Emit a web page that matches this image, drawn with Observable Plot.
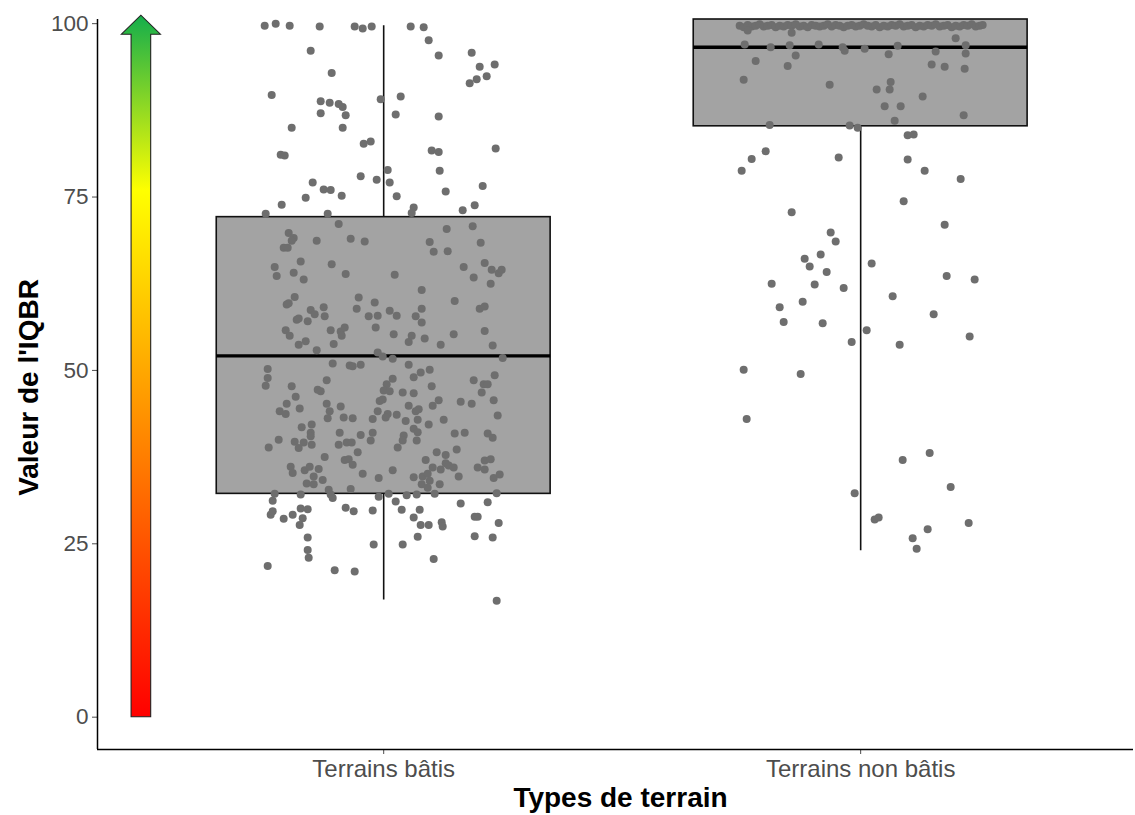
<!DOCTYPE html>
<html>
<head>
<meta charset="utf-8">
<script src="https://cdn.jsdelivr.net/npm/d3@7"></script>
<script src="https://cdn.jsdelivr.net/npm/@observablehq/plot@0.6"></script>
<style>
  html, body { margin: 0; padding: 0; background: #fff; }
</style>
</head>
<body>
<div id="chart"></div>
<script>
// ---------------- data ----------------
const categories = ["Terrains bâtis", "Terrains non bâtis"];
const categoryPositions = [1, 2];
const yTicks = [0, 25, 50, 75, 100];
const xTitle = "Types de terrain";
const yTitle = "Valeur de l'IQBR";

// box summaries (min-max whiskers)
const boxQ1 = [32.2, 85.2];
const boxMedian = [52.1, 96.6];
const boxQ3 = [72.1, 100.6];
const boxLow = [16.9, 24.0];
const boxHigh = [99.7, 100.6];

// IQBR colour arrow (value range)
const arrowRange = [0, 101.15];
const arrowPosition = 0.492;

// jittered points: [horizontal jitter (1/477 of category spacing), IQBR value]
const batisPoints = [
[-119,99.7],[-108,100],[-94,99.7],[-64,99.6],[-29,99.6],[-21,99.3],[-12,99.6],[27,99.6],[40,99.5],[45,97.6],
[-73,96.1],[55,95.4],[88,95.8],[96,93.8],[111,94.1],[-52,92.9],[86,91.4],[93,92.0],[103,92.4],[-112,89.7],
[-63,88.8],[-54,88.6],[-45,88.4],[-41,88.0],[-3,89.1],[17,89.5],[-63,87.1],[-38,86.8],[12,86.9],[55,86.6],
[-92,85.0],[-41,85.0],[-20,82.7],[-13,83.0],[48,81.7],[55,81.5],[112,82.0],[-103,81.1],[-99,81.0],[4,78.9],
[56,78.8],[-23,78.0],[-7,77.5],[6,77.1],[-71,77.1],[-60,76.1],[-53,76.0],[99,76.6],[62,75.8],[-78,74.9],
[-42,75.2],[13,75.1],[-102,73.9],[30,73.5],[91,73.8],[79,73.1],
[28,72.7],[-118,72.6],[-56,72.6],[-45,71.1],[-95,69.8],[-90,69.1],[-92,68.7],[-100,67.7],[-96,67.7],[-67,68.7],
[-33,69.0],[-19,68.6],[63,70.4],[89,70.8],[46,68.5],[50,67.1],[64,67.2],[97,68.4],[-109,64.9],[-107,63.6],
[-90,64.1],[-83,65.7],[-80,63.1],[-52,65.3],[-38,63.9],[11,63.8],[80,64.9],[90,63.4],[101,65.5],[108,64.5],
[115,64.0],[118,64.5],[107,62.5],[38,61.6],[-89,60.6],[-97,59.5],[-95,59.7],[-25,60.5],[-9,59.8],[71,60.0],
[-73,58.7],[-69,58.1],[-60,59.1],[-59,57.8],[-87,57.3],[-85,57.5],[-76,57.1],[-27,58.9],[-15,57.8],[-6,57.9],
[6,58.6],[13,57.9],[32,57.8],[38,58.9],[38,56.9],[96,58.9],[101,59.2],[-98,55.8],[-94,55.0],[-53,55.8],
[-43,55.6],[-39,56.2],[-42,55.0],[-85,53.7],[-78,54.2],[-67,52.9],[-50,53.8],[-8,56.2],[10,55.2],[25,54.1],
[28,55.0],[41,54.6],[57,53.7],[70,55.2],[101,55.7],[109,53.6],[-6,52.6],[-1,52.0],[9,51.7],[119,51.8],
[-51,51.0],[-34,50.7],[-31,50.6],[-23,50.8],[-116,50.2],[-116,48.9],[-118,47.8],[-92,47.7],[-57,48.6],[-66,47.2],
[-63,47.0],[-88,46.2],[25,50.8],[30,49.0],[37,49.7],[46,50.1],[9,48.8],[3,48.0],[0,47.1],[6,47.0],
[19,46.8],[30,46.7],[48,47.7],[90,48.6],[100,48.0],[104,48.0],[111,49.3],[98,46.8],
[110,45.7],[77,45.5],[88,45.2],[55,45.7],[49,44.9],[-4,45.6],[-1,45.8],[-97,45.2],[-104,44.1],[-98,43.7],
[-84,44.5],[-57,45.2],[-43,44.8],[-54,44.1],[-56,43.1],[-40,43.2],[-31,43.1],[-6,44.1],[-11,43.0],[4,43.7],
[2,43.2],[13,43.6],[25,44.9],[32,44.1],[35,44.4],[22,42.7],[34,42.9],[60,42.9],[45,42.2],[114,43.5],
[-82,41.8],[-72,42.2],[-73,41.0],[-73,40.5],[-105,40.0],[-115,38.9],[-89,39.7],[-85,38.8],[-80,39.6],[-72,39.3],
[-44,41.0],[-45,39.3],[-37,39.6],[-32,39.6],[-23,40.7],[-11,41.0],[-13,39.9],[20,40.6],[19,39.9],[14,38.9],
[30,41.6],[34,41.1],[33,39.9],[71,40.9],[81,41.0],[104,40.9],[109,40.3],[-26,38.2],[-59,37.5],[-39,37.1],
[-35,37.2],[-31,36.4],[53,38.2],[62,37.8],[73,38.6],[42,37.1],[-93,36.1],[-91,35.2],[-79,35.6],[-74,36.1],
[-65,35.8],[-70,34.7],[-77,33.7],[-70,33.6],[-61,34.2],[-21,35.1],[-5,34.5],[9,35.6],[30,34.6],[49,36.0],
[57,35.7],[62,36.6],[65,36.3],[70,36.0],[75,34.7],[94,36.0],[101,35.7],[101,37.0],[107,37.2],[110,34.5],
[116,35.0],[39,34.7],[44,35.1],[46,34.1],[38,33.6],[44,33.1],[56,33.6],[-33,32.9],[-55,32.8],[-53,32.1],
[-51,31.6],[-83,32.1],[-109,32.2],[-111,31.2],[-5,31.8],[5,32.2],[23,32.0],[33,32.1],[51,32.2],[113,32.3],
[12,31.1],[18,29.9],[36,29.9],[30,28.8],[77,30.8],[104,31.0],[115,28.0],[91,28.9],[94,28.9],[37,27.7],
[45,27.7],[58,28.1],[59,27.5],[-83,30.1],[-76,30.0],[-81,28.7],[-91,29.2],[-100,28.6],[-113,29.2],[-111,29.7],
[-84,27.7],[-38,30.2],[-30,29.7],[-11,29.8],[-76,25.9],[-76,24.1],[-75,23.0],[34,26.0],[19,24.9],[-10,24.9],
[91,26.1],[109,25.9],[50,22.8],[-116,21.8],[-49,21.2],[-29,21.0],[113,16.8]
];

const nonBatisPoints = [
[95,97.9],[-116,97.0],[-90,96.6],[-71,96.9],[-42,97.0],[-18,96.6],[-16,96.1],[4,96.4],[37,96.8],[105,96.9],
[105,95.7],[-69,98.7],[75,96.0],[-105,94.6],[-65,95.4],[-73,93.9],[28,95.6],[71,94.1],[84,93.8],[104,93.5],
[-117,91.9],[-31,91.2],[30,91.6],[16,90.5],[29,90.5],[62,89.5],[24,88.1],[40,88.1],[34,86.0],[103,86.8],
[-91,85.4],[-11,85.3],[-3,85.0],[47,83.9],[53,84.0],[-95,81.6],[-109,80.5],[-119,78.8],[-22,80.7],[47,80.4],
[64,78.8],[100,77.6],[43,74.4],[-69,72.8],[84,71.0],[-30,69.9],[-25,68.6],[-40,66.7],[-56,66.1],[-51,65.0],
[-34,64.2],[11,65.4],[-89,62.5],[-46,62.4],[-17,61.9],[86,63.6],[114,63.1],[32,60.7],[-81,59.1],[-58,59.9],
[-77,57.0],[-38,56.8],[73,58.1],[6,55.8],[-9,54.1],[39,53.7],[109,54.9],[-117,50.1],[-60,49.5],[-114,43.0],
[42,37.1],[69,38.1],[-6,32.3],[90,33.2],[14,28.5],[18,28.8],[108,28.0],[67,27.1],[52,25.8],[56,24.3],
[-113,99.0]
];

// dense band of "Terrains non bâtis" values near 100
const nonBatisTopJitter = [-121,-117,-113,-109,-105,-101,-97,-93,-89,-85,-81,-77,-73,-69,-65,-61,-57,-53,-49,-45,
  -41,-37,-33,-29,-25,-21,-17,-13,-9,-5,-1,3,7,11,15,19,23,27,31,35,39,43,47,51,55,59,63,67,71,75,79,83,87,91,95,
  99,103,107,111,115,119,122];
const nonBatisTopValues = [99.7,99.5,99.8,99.6,99.7,99.9,99.6,99.7,99.8,99.5,
  99.7,99.6,99.8,99.7,99.9,99.6,99.7,99.5,99.8,99.7,
  99.6,99.7,99.9,99.6,99.8,99.7,99.5,99.7,99.8,99.6,
  99.7,99.9,99.7,99.6,99.8,99.5,99.7,99.6,99.8,99.7,
  99.9,99.6,99.7,99.8,99.5,99.7,99.6,99.8,99.7,99.9,
  99.6,99.7,99.8,99.5,99.7,99.6,99.8,99.7,99.9,99.6,
  99.7,99.8];

// ---------------- build tables ----------------
const JITTER_UNITS = 477;
const boxes = categories.map((c, i) => ({
  pos: categoryPositions[i], q1: boxQ1[i], median: boxMedian[i], q3: boxQ3[i], lo: boxLow[i], hi: boxHigh[i]
}));
const points = [
  ...batisPoints.map(([j, v]) => ({x: categoryPositions[0] + j / JITTER_UNITS, y: v})),
  ...nonBatisTopJitter.map((j, i) => ({x: categoryPositions[1] + j / JITTER_UNITS, y: nonBatisTopValues[i]})),
  ...nonBatisPoints.map(([j, v]) => ({x: categoryPositions[1] + j / JITTER_UNITS, y: v}))
];

const xDomain = [0.4, 2.572];
const yDomain = [-4.66, 100.6];
const halfBox = 0.35;

// gradient arrow drawn through the scales
function arrowMark(index, scales) {
  const x = scales.x, y = scales.y;
  const cx = x(arrowPosition);
  const yb = y(arrowRange[0]);
  const yt = y(arrowRange[1]);
  const head = 19, headHalf = 19.5, shaftHalf = 9.8;
  const g = d3.create("svg:g");
  const grad = g.append("defs").append("linearGradient")
    .attr("id", "iqbr-grad").attr("gradientUnits", "userSpaceOnUse")
    .attr("x1", 0).attr("x2", 0).attr("y1", yb).attr("y2", yt);
  grad.append("stop").attr("offset", 0).attr("stop-color", "#FF0000");
  grad.append("stop").attr("offset", 0.75).attr("stop-color", "#FFFF00");
  grad.append("stop").attr("offset", 1).attr("stop-color", "#14AE4B");
  const yh = yt + head;
  g.append("path")
    .attr("d", `M${cx - shaftHalf},${yb}L${cx - shaftHalf},${yh}L${cx - headHalf},${yh}L${cx},${yt}L${cx + headHalf},${yh}L${cx + shaftHalf},${yh}L${cx + shaftHalf},${yb}Z`)
    .attr("fill", "url(#iqbr-grad)")
    .attr("stroke", "#222")
    .attr("stroke-width", 1.1)
    .attr("stroke-linejoin", "miter");
  return g.node();
}

const chart = Plot.plot({
  width: 1135,
  height: 815,
  marginLeft: 97,
  marginRight: 2,
  marginTop: 19,
  marginBottom: 66,
  style: {fontFamily: "'Liberation Sans', Arial, sans-serif", background: "#fff", overflow: "visible"},
  x: {type: "linear", domain: xDomain, label: null},
  y: {domain: yDomain, label: null},
  marks: [
    // whiskers
    Plot.ruleX(boxes, {x: "pos", y1: "lo", y2: "hi", stroke: "#111", strokeWidth: 1.6}),
    // boxes
    Plot.rect(boxes, {x1: d => d.pos - halfBox, x2: d => d.pos + halfBox, y1: "q1", y2: "q3",
      fill: "#A3A3A3", stroke: "#111", strokeWidth: 1.6}),
    // medians
    Plot.ruleY(boxes, {y: "median", x1: d => d.pos - halfBox, x2: d => d.pos + halfBox, stroke: "#000", strokeWidth: 3.4}),
    // points
    Plot.dot(points, {x: "x", y: "y", r: 4, fill: "#6E6E6E", stroke: "none"}),
    // arrow
    arrowMark,
    // axes
    Plot.axisY(yTicks, {tickSize: 5, tickPadding: 4, fontSize: 22.5, color: "#4D4D4D", label: null}),
    Plot.axisX(categoryPositions, {tickSize: 5, tickPadding: 5, fontSize: 24, color: "#4D4D4D", label: null,
      tickFormat: d => categories[categoryPositions.indexOf(d)]}),
    Plot.ruleX([xDomain[0]], {y1: yDomain[0], y2: yDomain[1], stroke: "#000", strokeWidth: 1.5}),
    Plot.ruleY([yDomain[0]], {x1: xDomain[0], x2: xDomain[1], stroke: "#000", strokeWidth: 1.5}),
    // titles
    Plot.text([xTitle], {frameAnchor: "bottom", dx: 5, dy: 57, fontSize: 28, fontWeight: "bold", fill: "#000"}),
    Plot.text([yTitle], {frameAnchor: "left", textAnchor: "middle", dx: -68, dy: 3, rotate: -90,
      fontSize: 28, fontWeight: "bold", fill: "#000"})
  ]
});
document.getElementById("chart").appendChild(chart);
</script>
</body>
</html>
